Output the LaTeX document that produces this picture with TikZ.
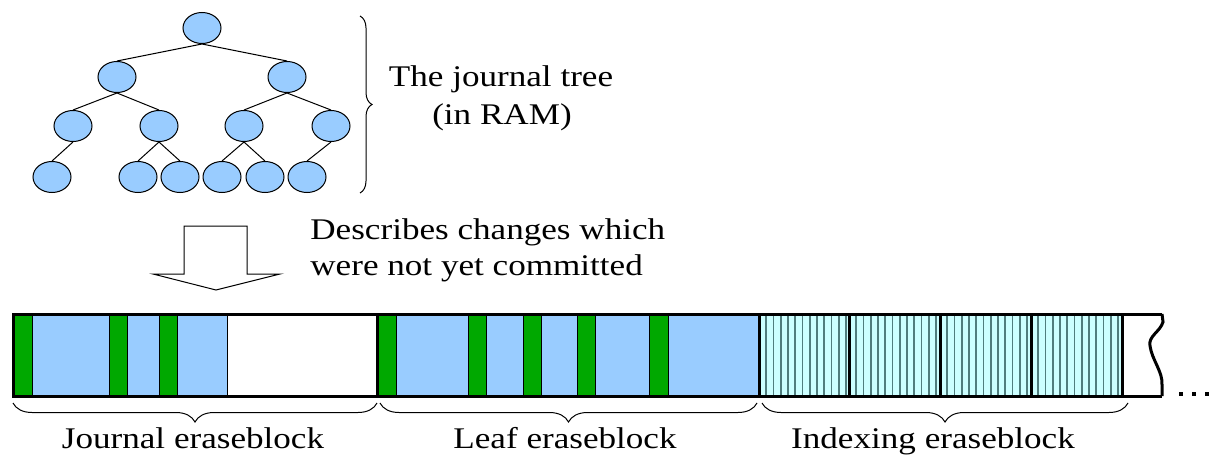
\documentclass[tikz,border=0pt]{standalone}
\usepackage{fontspec}
\setmainfont{Liberation Serif}[FakeStretch=1.17]
\usetikzlibrary{decorations.pathreplacing,shapes.geometric}
\definecolor{grn}{RGB}{0,168,0}
\definecolor{lblue}{RGB}{153,204,255}
\definecolor{lcyan}{RGB}{204,255,255}
\definecolor{stripe}{RGB}{80,125,125}
\tikzset{
  tnode/.style={ellipse, draw=black, line width=0.5pt, fill=lblue, minimum width=19pt, minimum height=15.5pt, inner sep=0pt},
  tedge/.style={line width=0.5pt},
  lbl/.style={font=\fontsize{15pt}{18.3pt}\selectfont, inner sep=0pt},
  gseg/.style={fill=grn, draw=black, line width=0.5pt},
  bseg/.style={fill=lblue, draw=black, line width=0.5pt},
  cseg/.style={fill=lcyan},
  thickline/.style={line width=1.5pt, draw=black},
  brc/.style={decorate, line width=0.5pt},
}
\begin{document}
\begin{tikzpicture}[x=0.5pt,y=-0.5pt]
\useasboundingbox (0,0) rectangle (1213,460);
% tree
\node[tnode] (r) at (202,28) {};
\node[tnode] (a1) at (117,77) {};
\node[tnode] (a2) at (287,77) {};
\node[tnode] (b1) at (73,126) {};
\node[tnode] (b2) at (159,126) {};
\node[tnode] (b3) at (244,126) {};
\node[tnode] (b4) at (331,126) {};
\node[tnode] (c1) at (52,177) {};
\node[tnode] (c2) at (138,177) {};
\node[tnode] (c3) at (180,177) {};
\node[tnode] (c4) at (222,177) {};
\node[tnode] (c5) at (265,177) {};
\node[tnode] (c6) at (307,177) {};
\draw[tedge] (r.south) -- (a1.north); \draw[tedge] (r.south) -- (a2.north);
\draw[tedge] (a1.south) -- (b1.north); \draw[tedge] (a1.south) -- (b2.north);
\draw[tedge] (a2.south) -- (b3.north); \draw[tedge] (a2.south) -- (b4.north);
\draw[tedge] (b1.south) -- (c1.north);
\draw[tedge] (b2.south) -- (c2.north); \draw[tedge] (b2.south) -- (c3.north);
\draw[tedge] (b3.south) -- (c4.north); \draw[tedge] (b3.south) -- (c5.north);
\draw[tedge] (b4.south) -- (c6.north);
% tree brace
\coordinate (tb1) at (360,16);
\coordinate (tb2) at (360,193);
\draw[brc, decoration={brace, amplitude=6pt}] (tb1) -- (tb2);
\node[lbl, anchor=base] (t1) at (501,87) {The journal tree};
\node[lbl, anchor=base] (t2) at (502,124) {(in RAM)};
% block arrow
\draw[line width=0.5pt, fill=white] (184,226) -- (247,226) -- (247,274) -- (280,274) -- (216,290) -- (153,274) -- (184,274) -- cycle;
\node[lbl, anchor=base west] (d1) at (310,239) {Describes changes which};
\node[lbl, anchor=base west] (d2) at (310,275) {were not yet committed};
% journal eraseblock
\fill[white] (13,314) rectangle (377,396);
\draw[gseg] (13,314) rectangle (32,396);
\draw[bseg] (32,314) rectangle (109,396);
\draw[gseg] (109,314) rectangle (127,396);
\draw[bseg] (127,314) rectangle (159,396);
\draw[gseg] (159,314) rectangle (177,396);
\draw[bseg] (177,314) rectangle (227,396);
% leaf eraseblock
\draw[gseg] (377,314) rectangle (396,396);
\draw[bseg] (396,314) rectangle (468,396);
\draw[gseg] (468,314) rectangle (486,396);
\draw[bseg] (486,314) rectangle (523,396);
\draw[gseg] (523,314) rectangle (541,396);
\draw[bseg] (541,314) rectangle (577,396);
\draw[gseg] (577,314) rectangle (595,396);
\draw[bseg] (595,314) rectangle (649,396);
\draw[gseg] (649,314) rectangle (668,396);
\draw[bseg] (668,314) rectangle (759,396);
% indexing eraseblock
\foreach \s in {759,849,940,1031}{
  \fill[cseg] (\s,314) rectangle ({\s+91},396);
  \foreach \k in {1,...,12}{
    \draw[stripe, line width=0.8pt] ({\s+7.25*\k},314) -- ({\s+7.25*\k},396);
  }
}
% torn end
\fill[white] (1122,314) -- (1162,314) -- (1163,322) .. controls (1160,332) and (1148,336) .. (1150,346) .. controls (1152,360) and (1163,372) .. (1162,385) -- (1162,396) -- (1122,396) -- cycle;
\draw[thickline] (1162,314) -- (1163,322) .. controls (1160,332) and (1148,336) .. (1150,346) .. controls (1152,360) and (1163,372) .. (1162,385) -- (1162,396);
% outline
\draw[thickline] (1162,314) -- (13,314) -- (13,396) -- (1162,396);
\foreach \x in {377,759,849,940,1031,1122}{
  \draw[thickline] (\x,314) -- (\x,396);
}
% dots
\foreach \x in {1181,1194,1207}{
  \fill[black] (\x-2,392) rectangle (\x+2,396);
}
% bottom braces
\coordinate (j1) at (13,403); \coordinate (j2) at (377,403);
\coordinate (l1) at (380,403); \coordinate (l2) at (757,403);
\coordinate (i1) at (762,403); \coordinate (i2) at (1128,403);
\draw[brc, decoration={brace, amplitude=9.5pt}] (j2) -- (j1);
\draw[brc, decoration={brace, amplitude=9.5pt}] (l2) -- (l1);
\draw[brc, decoration={brace, amplitude=9.5pt}] (i2) -- (i1);
\node[lbl, anchor=base] (jl) at (193,448) {Journal eraseblock};
\node[lbl, anchor=base] (ll) at (565,448) {Leaf eraseblock};
\node[lbl, anchor=base] (il) at (933,448) {Indexing eraseblock};
\end{tikzpicture}
\end{document}
